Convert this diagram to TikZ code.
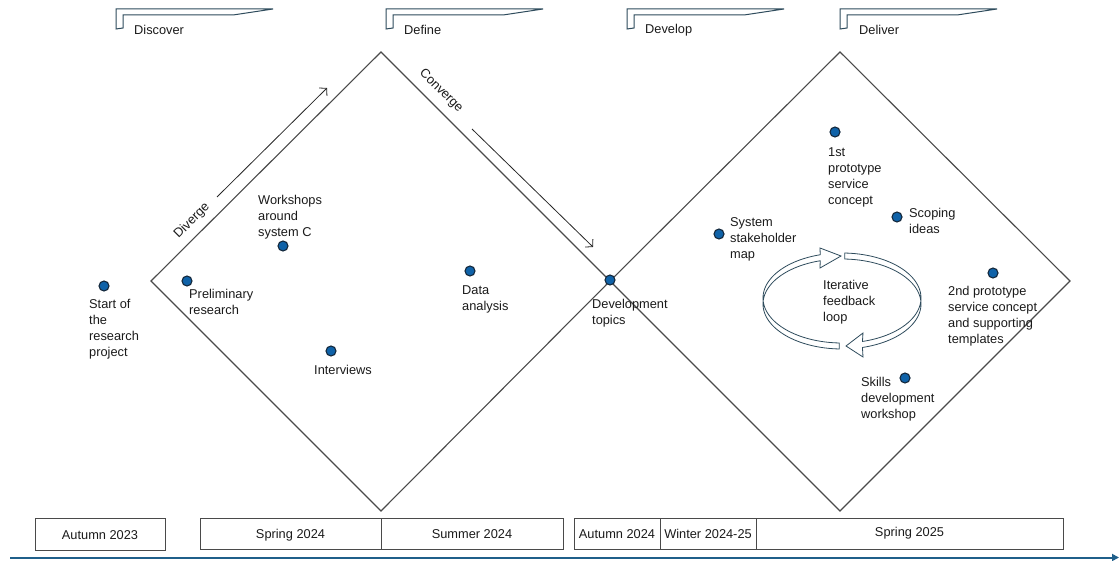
\documentclass[tikz,border=0pt]{standalone}
\usepackage{fontspec}
\setmainfont{Liberation Sans}
\usetikzlibrary{arrows.meta}
\definecolor{dotblue}{HTML}{0F62A8}
\definecolor{dotedge}{HTML}{14283C}
\definecolor{flagc}{HTML}{2E4B5C}
\definecolor{linec}{HTML}{4A4A4A}
\definecolor{tlc}{HTML}{1F5F8A}
\definecolor{txt}{HTML}{1A1A1A}
\begin{document}
\begin{tikzpicture}[x=1pt,y=-1pt,
  font=\fontsize{12.8}{16}\selectfont,
  every node/.style={text=txt},
  dia/.style={draw=linec, line width=1.1pt},
  dot/.style={circle, minimum size=10pt, inner sep=0pt, fill=dotblue, draw=dotedge, line width=1.1pt},
  lbl/.style={anchor=north west, inner sep=0pt, align=left},
  tbox/.style={draw=linec, line width=0.9pt, inner sep=0pt, minimum height=31.5pt, text height=9.2pt, text depth=0pt},
  flagline/.style={draw=flagc, line width=1pt, fill=white},
  loopc/.style={draw=flagc, line width=0.8pt, fill=white},
  hdr/.style={anchor=west, inner sep=0pt},
  phasearrow/.style={draw=black!85, line width=0.8pt, -{Straight Barb[length=5pt,width=11pt]}}
]
\useasboundingbox (0,0) rectangle (1119,561);

% header flags
\foreach \fx in {116,386,627,840}{
  \draw[flagline] (\fx,9) -- ++(157,0) -- ++(-40,6) -- ++(-110,0) -- ++(0,13) -- ++(-7,1) -- cycle;
}
\node[hdr] (hDiscover) at (134,30) {Discover};
\node[hdr] (hDefine) at (404,30) {Define};
\node[hdr] (hDevelop) at (645,30) {Develop};
\node[hdr] (hDeliver) at (859,30) {Deliver};

% diamonds
\coordinate (L1) at (151,281);
\coordinate (T1) at (381,52);
\coordinate (R1) at (610,281);
\coordinate (B1) at (381,511);
\coordinate (T2) at (840,52);
\coordinate (R2) at (1070,281);
\coordinate (B2) at (840,511);
\draw[dia] (L1) -- (T1) -- (R1) -- (B1) -- cycle;
\draw[dia] (R1) -- (T2) -- (R2) -- (B2) -- cycle;

% diverge / converge
\coordinate (dvs) at (217,197);
\coordinate (dve) at (327,88);
\draw[phasearrow] (dvs) -- (dve);
\node[rotate=45, inner sep=0pt] (tDiverge) at (192,221) {Diverge};
\coordinate (cvs) at (472,129);
\coordinate (cve) at (593,247);
\draw[phasearrow] (cvs) -- (cve);
\node[rotate=-45, inner sep=0pt] (tConverge) at (441,91) {Converge};

% loop arrows
\draw[loopc] plot[domain=92:254, samples=60] ({842+79*cos(\x)},{298+45*sin(\x)})
  -- (820,248) -- (841,256) -- (820,268)
  -- plot[domain=254:92, samples=60] ({842+79*cos(\x)},{304+45*sin(\x)}) -- cycle;
\draw[loopc] plot[domain=272:435, samples=60] ({842+79*cos(\x)},{298+45*sin(\x)})
  -- (863,333) -- (846,346) -- (863,357)
  -- plot[domain=435:272, samples=60] ({842+79*cos(\x)},{304+45*sin(\x)}) -- cycle;
\node[lbl] (tLoop) at (823,280) {Iterative\\feedback\\loop};

% dots and labels
\node[dot] (dStart) at (104,286) {};
\node[lbl] (tStart) at (89,299) {Start of\\the\\research\\project};
\node[dot] (dPrelim) at (187,281) {};
\node[lbl] (tPrelim) at (189,289) {Preliminary\\research};
\node[dot] (dWork) at (283,246) {};
\node[lbl] (tWork) at (258,195) {Workshops\\around\\system C};
\node[dot] (dInt) at (331,351) {};
\node[lbl] (tInt) at (314,365) {Interviews};
\node[dot] (dData) at (470,271) {};
\node[lbl] (tData) at (462,285) {Data\\analysis};
\node[dot] (dDev) at (610,280) {};
\node[lbl] (tDev) at (592,299) {Development\\topics};
\node[dot] (dSys) at (719,234) {};
\node[lbl] (tSys) at (730,217) {System\\stakeholder\\map};
\node[dot] (dProt1) at (835,132) {};
\node[lbl] (tProt1) at (828,147) {1st\\prototype\\service\\concept};
\node[dot] (dScope) at (897,217) {};
\node[lbl] (tScope) at (909,208) {Scoping\\ideas};
\node[dot] (dProt2) at (993,273) {};
\node[lbl] (tProt2) at (948,286) {2nd prototype\\service concept\\and supporting\\templates};
\node[dot] (dSkill) at (905,378) {};
\node[lbl] (tSkill) at (861,377) {Skills\\development\\workshop};

% timeline boxes
\node[tbox, minimum width=130pt] (bA23) at (100,534.5) {Autumn 2023};
\node[tbox, minimum width=181pt] (bSp24) at (290.5,534) {Spring 2024};
\node[tbox, minimum width=182pt] (bSu24) at (472,534) {Summer 2024};
\node[tbox, minimum width=86pt] (bA24) at (617,534) {Autumn 2024};
\node[tbox, minimum width=96pt] (bW24) at (708,534) {Winter 2024-25};
\node[tbox, minimum width=307pt] (bSp25) at (909.5,534) {};
\node[inner sep=0pt, text height=9.2pt, text depth=0pt] (tSp25) at (909.5,532) {Spring 2025};

% time axis
\coordinate (ts) at (10,557.5);
\coordinate (te) at (1119,557.5);
\draw[tlc, line width=2pt, -{Triangle[length=7pt,width=7pt]}] (ts) -- (te);
\end{tikzpicture}
\end{document}
